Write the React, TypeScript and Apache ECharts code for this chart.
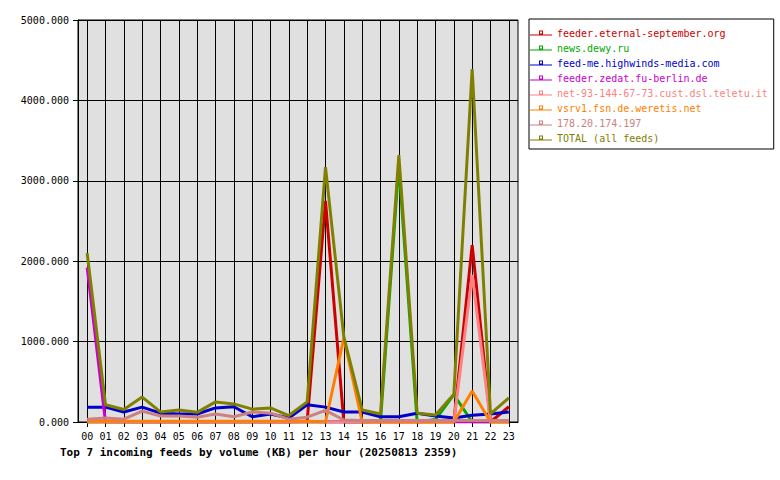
import React, { useEffect, useRef } from "react";
import * as echarts from "echarts";

const hours = ["00","01","02","03","04","05","06","07","08","09","10","11","12","13","14","15","16","17","18","19","20","21","22","23"];

const feedNames = [
  "feeder.eternal-september.org",
  "news.dewy.ru",
  "feed-me.highwinds-media.com",
  "feeder.zedat.fu-berlin.de",
  "net-93-144-67-73.cust.dsl.teletu.it",
  "vsrv1.fsn.de.weretis.net",
  "178.20.174.197",
  "TOTAL (all feeds)",
];

const feedColors = ["#cc0000", "#00aa00", "#0000cc", "#cc00cc", "#ff8080", "#ff8000", "#cc8080", "#808000"];

const eternalSeptember = [0, 0, 0, 0, 0, 0, 0, 0, 0, 0, 0, 0, 10, 2750, 0, 0, 0, 0, 0, 0, 0, 2200, 0, 190];
const newsDewy = [0, 0, 0, 0, 0, 0, 0, 0, 0, 0, 0, 0, 0, 0, 0, 0, 10, 3200, 0, 30, 340, 0, 0, 0];
const highwinds = [185, 185, 125, 185, 110, 100, 100, 175, 190, 65, 100, 50, 215, 185, 125, 125, 65, 65, 110, 75, 50, 85, 100, 125];
const zedat = [1920, 0, 0, 0, 0, 0, 0, 0, 0, 0, 0, 0, 0, 0, 0, 0, 0, 0, 0, 0, 0, 0, 0, 0];
const teletu = [0, 0, 0, 0, 0, 0, 0, 0, 0, 0, 0, 0, 0, 0, 0, 0, 0, 0, 0, 0, 0, 1830, 0, 0];
const weretis = [10, 10, 10, 10, 10, 10, 10, 10, 10, 10, 10, 10, 10, 0, 1045, 0, 0, 0, 0, 0, 0, 385, 0, 0];
const ip178 = [35, 50, 35, 135, 75, 75, 60, 100, 65, 125, 110, 35, 60, 145, 25, 20, 20, 20, 20, 20, 20, 20, 20, 20];
const total = [2100, 215, 155, 310, 125, 150, 120, 250, 225, 160, 175, 80, 250, 3170, 1060, 150, 100, 3320, 110, 87, 345, 4390, 100, 300];

const seriesValues = [eternalSeptember, newsDewy, highwinds, zedat, teletu, weretis, ip178, total];

const yTicks = [0, 1000, 2000, 3000, 4000, 5000];

const title = "Top 7 incoming feeds by volume (KB) per hour (20250813 2359)";

const MONO = "'DejaVu Sans Mono', 'Liberation Mono', monospace";

const LEGEND_ICON = "path://M0,7h22v1h-22Z M9,3h4v4h-4Z M10,4v2h2v-2Z";

export default function App() {
  const ref = useRef<HTMLDivElement>(null);
  useEffect(() => {
    if (!ref.current) return;
    const chart = echarts.init(ref.current, null, { renderer: "svg" });
    chart.setOption({
      animation: false,
      backgroundColor: "#ffffff",
      title: {
        text: title,
        left: 55,
        top: 442,
        textStyle: { fontFamily: MONO, fontSize: 11, fontWeight: "bold", color: "#000" },
      },
      legend: {
        orient: "vertical",
        left: 529,
        top: 19,
        itemWidth: 22,
        itemHeight: 10,
        itemGap: 5,
        itemTextGap: 4,
        padding: [9, 6, 6, 1],
        borderColor: "#000",
        borderWidth: 1,
        backgroundColor: "#fff",
        icon: LEGEND_ICON,
        itemStyle: { borderWidth: 0 },
        data: feedNames.map((n, i) => ({
          name: n,
          itemStyle: { color: feedColors[i], borderWidth: 0 },
          textStyle: { color: feedColors[i], fontFamily: MONO, fontSize: 10 },
        })),
      },
      grid: {
        left: 78,
        top: 20,
        width: 440,
        height: 402,
        show: true,
        backgroundColor: "#e0e0e0",
        borderColor: "#000",
        borderWidth: 1,
      },
      xAxis: {
        type: "category",
        data: hours,
        boundaryGap: true,
        axisLine: { show: true, lineStyle: { color: "#000", width: 1 } },
        axisTick: { show: true, alignWithLabel: true, length: 5, lineStyle: { color: "#000" } },
        splitLine: { show: true, alignWithLabel: true, lineStyle: { color: "#000", width: 1 } },
        axisLabel: { color: "#000", fontFamily: MONO, fontSize: 10, margin: 9 },
      },
      yAxis: {
        type: "value",
        min: yTicks[0],
        max: yTicks[yTicks.length - 1],
        interval: 1000,
        axisLine: { show: true, lineStyle: { color: "#000" } },
        axisTick: { show: true, length: 5, lineStyle: { color: "#000" } },
        splitLine: { show: true, lineStyle: { color: "#000", width: 1 } },
        axisLabel: {
          color: "#000",
          fontFamily: MONO,
          fontSize: 10,
          margin: 9,
          formatter: (v: number) => v.toFixed(3),
        },
      },
      series: feedNames.map((n, i) => ({
        name: n,
        type: "line",
        data: seriesValues[i],
        color: feedColors[i],
        symbol: "none",
        lineStyle: { width: 3, color: feedColors[i] },
        itemStyle: { color: feedColors[i] },
        z: 2 + i,
      })),
    });
    return () => chart.dispose();
  }, []);
  return <div ref={ref} style={{ width: 780, height: 480, position: "absolute", left: 0, top: 0 }} />;
}
